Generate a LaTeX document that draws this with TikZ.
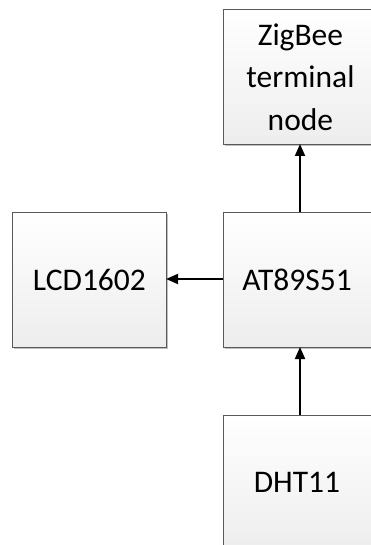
\documentclass[tikz,border=0pt]{standalone}
\usepackage{fontspec}
\setmainfont{Carlito}
\usetikzlibrary{arrows.meta,shadows}
\begin{document}
\begin{tikzpicture}[x=1pt,y=-1pt,
  blk/.style={draw=black!65,line width=0.8pt,top color=white,bottom color=black!7,
    minimum width=154pt,minimum height=135pt,inner sep=0pt,anchor=north west,
    font=\fontsize{31.5}{42.5}\selectfont,align=center,
    drop shadow={shadow xshift=2pt,shadow yshift=-2pt,fill=black!25,opacity=1}},
  lbl/.style={font=\fontsize{31.5}{42.5}\selectfont},
  arr/.style={line width=1.9pt,-{Triangle[length=12pt,width=10pt]}}]
\useasboundingbox (0,0) rectangle (371,545);
\clip (0,0) rectangle (371,545);
\node[blk] (zig) at (223,9) {ZigBee\\terminal\\node};
\node[blk] (lcd) at (12,212) {LCD1602};
\node[blk] (at) at (223,212) {};
\node[lbl] (atl) at (297,279.5) {AT89S51};
\node[blk] (dht) at (223,415) {};
\node[lbl] (dhtl) at (297,482) {DHT11};
\coordinate (atTop) at (300,212);
\coordinate (zigBot) at (300,144);
\coordinate (atBot) at (300,347);
\coordinate (dhtTop) at (300,415);
\coordinate (atLeft) at (223,279);
\coordinate (lcdRight) at (166,279);
\draw[arr] (atTop) -- (zigBot);
\draw[arr] (dhtTop) -- (atBot);
\draw[arr] (atLeft) -- (lcdRight);
\end{tikzpicture}
\end{document}
